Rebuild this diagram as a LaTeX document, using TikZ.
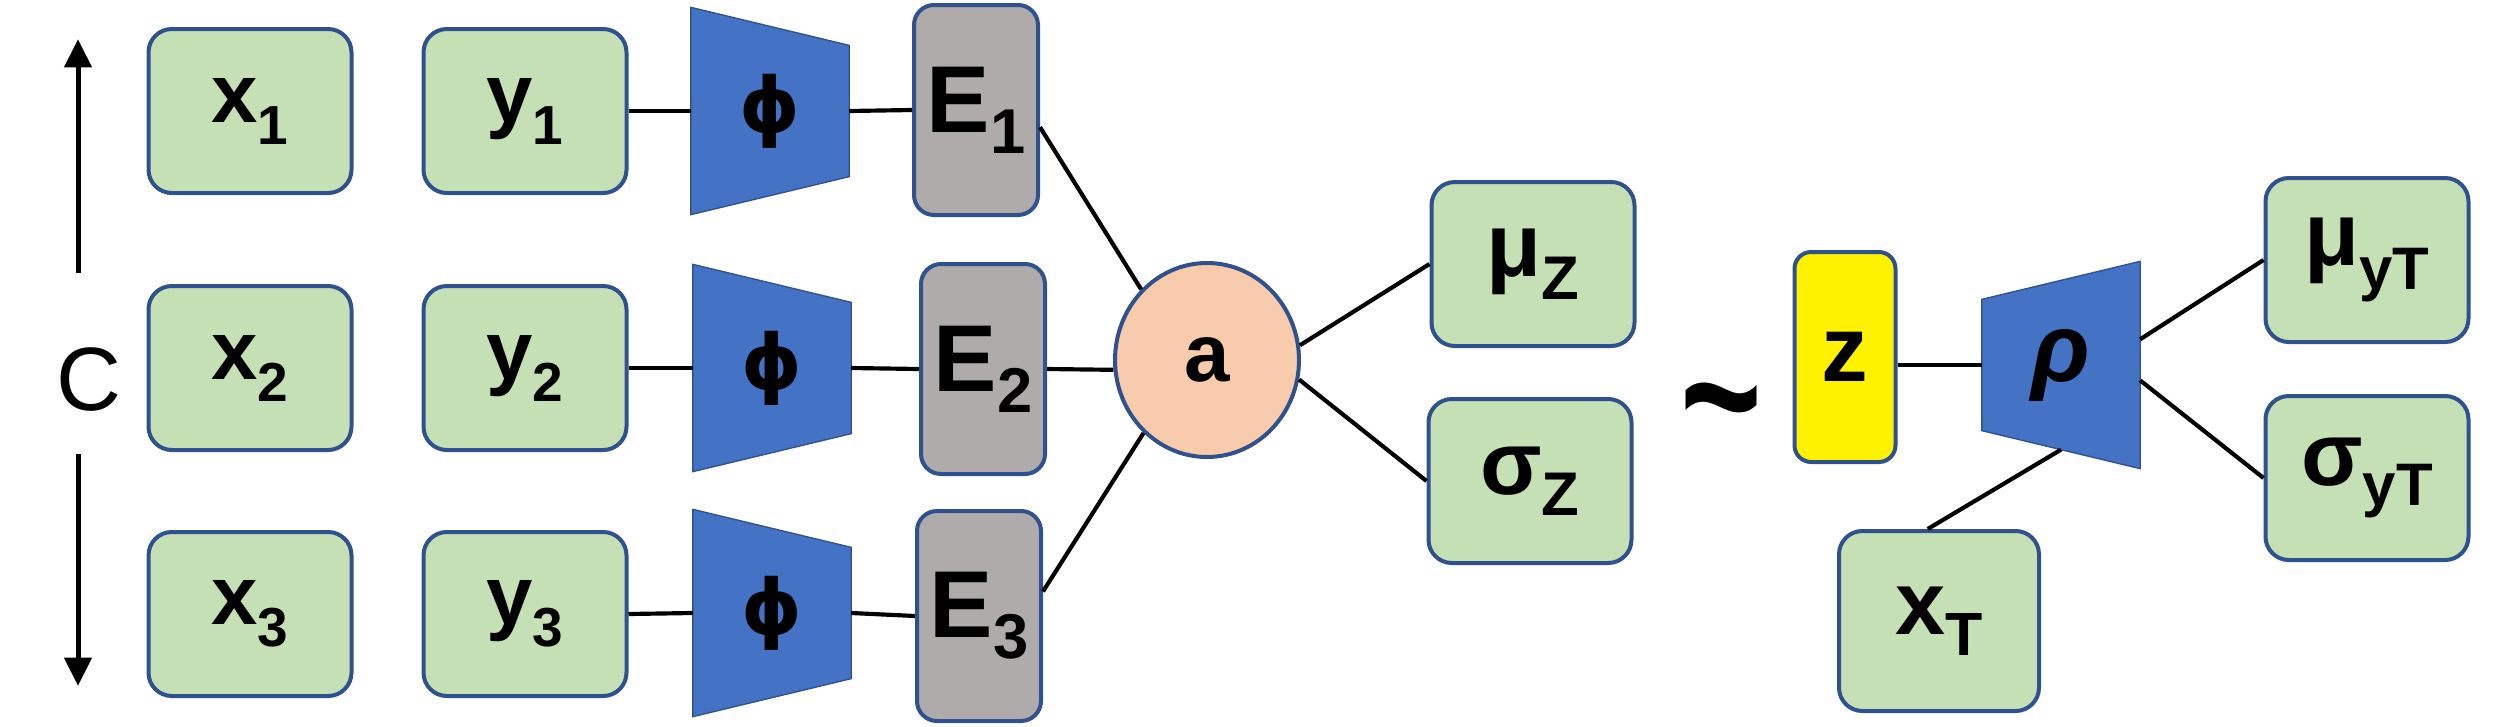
\documentclass[tikz,border=0pt]{standalone}
\usepackage{fontspec}
\setmainfont{Liberation Sans}
\newfontfamily\dejavu{DejaVu Sans}
\usetikzlibrary{shapes.geometric,arrows.meta,calc,backgrounds}
\definecolor{gfill}{HTML}{C5E0B4}
\definecolor{bord}{HTML}{2F528F}
\definecolor{tblue}{HTML}{4472C4}
\definecolor{egray}{HTML}{AFABAB}
\definecolor{apeach}{HTML}{F8CBAD}
\newcommand\fsz[1]{\fontsize{#1pt}{#1pt}\selectfont}
\newcommand\lab[5]{{\fsz{#3}\textbf{#1}}\raisebox{-#5pt}{\fsz{#4}\textbf{#2}}}
\newcommand\phisym{{\fsz{23}\dejavu\bfseries ϕ}}
\begin{document}
\begin{tikzpicture}[x=0.3pt,y=-0.3pt,
  gbox/.style={draw=bord,fill=gfill,line width=1.2pt,rounded corners=7pt,inner sep=0pt,minimum width=60.9pt,minimum height=49.2pt},
  ebox/.style={draw=bord,fill=egray,line width=1.2pt,rounded corners=6pt,inner sep=0pt,minimum width=37.2pt,minimum height=63pt},
  zbox/.style={draw=bord,fill=yellow,line width=1.2pt,rounded corners=5pt,inner sep=0pt,minimum width=30.3pt,minimum height=63pt},
  trapnode/.style={inner sep=0pt,minimum width=47.1pt,minimum height=61.8pt},
  trap/.style={fill=tblue,draw=bord,line width=0.4pt},
  circ/.style={ellipse,draw=bord,fill=apeach,line width=1.2pt,inner sep=0pt,minimum width=55.2pt,minimum height=58.2pt},
  conn/.style={draw=black,line width=1.25pt},
  arr/.style={draw=black,line width=1.5pt,-{Triangle[width=8pt,length=8.5pt]}}]
\useasboundingbox (0,0) rectangle (2509,726);

% left arrows and C
\node[inner sep=0pt] (C) at (89,380) {\fsz{27}C};
\coordinate (u1) at (78,273); \coordinate (u2) at (78,39);
\coordinate (d1) at (78,454); \coordinate (d2) at (78,686);
\draw[arr] (u1) -- (u2);
\draw[arr] (d1) -- (d2);

% x and y boxes
\node[gbox] (x1) at (250,111) {\lab{x}{1}{25}{16.5}{6.6}};
\node[gbox] (x2) at (250,368) {\lab{x}{2}{25}{16.5}{6.6}};
\node[gbox] (x3) at (250,614) {\lab{x}{3}{25}{16.5}{6.6}};
\node[gbox] (y1) at (525,111) {\lab{y}{1}{25}{16.5}{6.6}};
\node[gbox] (y2) at (525,368) {\lab{y}{2}{25}{16.5}{6.6}};
\node[gbox] (y3) at (525,614) {\lab{y}{3}{25}{16.5}{6.6}};

% phi encoders
\node[trapnode] (p1) at (770,111) {\phisym};
\node[trapnode] (p2) at (772,368) {\phisym};
\node[trapnode] (p3) at (772,613) {\phisym};
\begin{scope}[on background layer]
\foreach \p in {p1,p2,p3}{
  \draw[trap] (\p.north west) -- ($(\p.north east)+(0,38)$) -- ($(\p.south east)+(0,-38)$) -- (\p.south west) -- cycle;
}
\end{scope}

% E boxes
\node[ebox] (E1) at (976,110) {\lab{E}{1}{28.5}{19}{6.3}};
\node[ebox] (E2) at (983,369) {\lab{E}{2}{28.5}{19}{6.3}};
\node[ebox] (E3) at (979,616) {\lab{E}{3}{28.5}{19}{6.3}};

% aggregator
\node[circ] (a) at (1207,360) {\fsz{24.5}\textbf{a}};

% mu, sigma z
\node[gbox] (mz) at (1533,264) {\lab{μ}{Z}{27}{18.5}{7}};
\node[gbox] (sz) at (1530,481) {\lab{σ}{Z}{27}{18.5}{6.2}};

% tilde and z
\node[anchor=base,inner sep=0pt] (tl) at (1721,460) {\scalebox{1}[1.35]{\fsz{42}\textbf{\textasciitilde}}};
\node[zbox] (z) at (1845,357) {\fsz{28}\textbf{z}};

% rho decoder
\node[trapnode] (r) at (2061,365) {\fsz{29}\textbf{\textit{ρ}}};
\begin{scope}[on background layer]
  \draw[trap] (r.north east) -- (r.south east) -- ($(r.south west)+(0,-38)$) -- ($(r.north west)+(0,38)$) -- cycle;
\end{scope}
\coordinate (rb) at ($(r.south)+(0,-19)$);

\node[gbox] (myT) at (2367,260) {\lab{μ}{yT}{27}{18}{7}};
\node[gbox] (syT) at (2367,478) {\lab{σ}{yT}{27}{18}{6.2}};
\node[gbox,minimum width=60pt,minimum height=54pt] (xT) at (1939,621) {\lab{x}{T}{27}{18.3}{6.2}};

% connectors
\draw[conn] (y1.east) -- (p1.west);
\draw[conn] (y2.east) -- (p2.west);
\draw[conn] (y3.east) -- (p3.west);
\draw[conn] (p1.east) -- (E1.west);
\draw[conn] (p2.east) -- (E2.west);
\draw[conn] (p3.east) -- (E3.west);
\draw[conn] (E1.-15) -- (a.133);
\draw[conn] (E2.east) -- (a.186);
\draw[conn] (E3.21) -- (a.229);
\draw[conn] (a.9) -- (mz.west);
\draw[conn] (a.-12) -- (sz.west);
\draw[conn] (r.west -| z.east) -- (r.west);
\draw[conn] (r.18) -- (myT.west);
\draw[conn] (r.-11) -- (syT.west);
\draw[conn] (xT.97) -- (rb);
\end{tikzpicture}
\end{document}
